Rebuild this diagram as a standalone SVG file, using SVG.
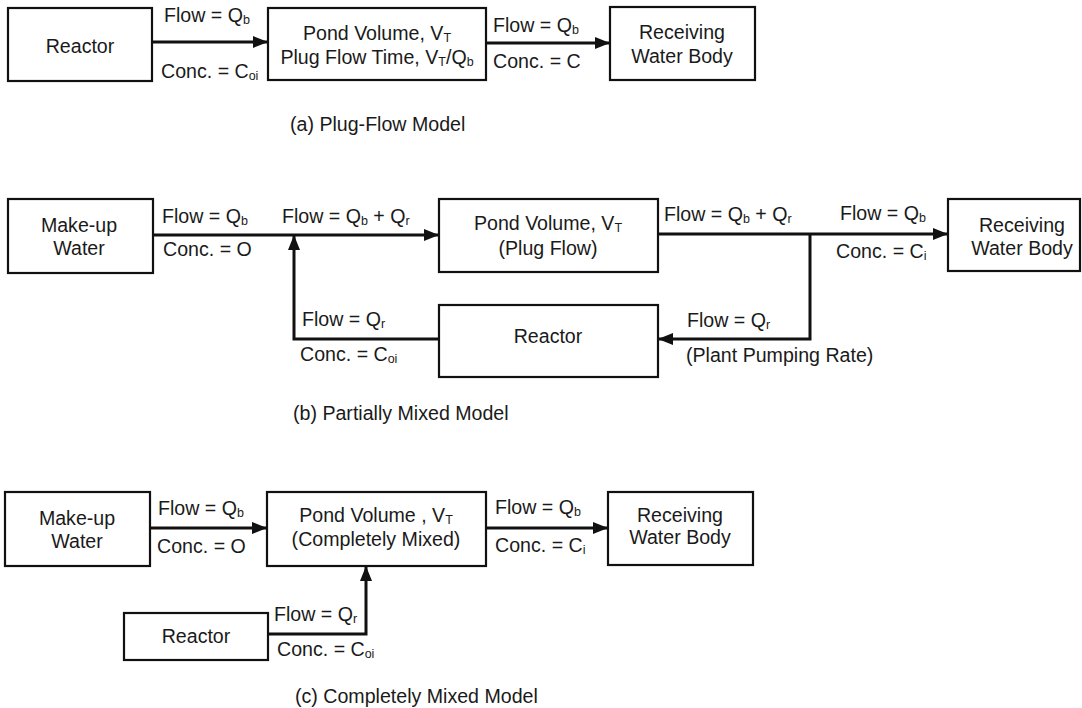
<svg xmlns="http://www.w3.org/2000/svg" width="1082" height="708" viewBox="0 0 1082 708">
<defs>
<marker id="ah" markerUnits="userSpaceOnUse" markerWidth="16" markerHeight="12" refX="15" refY="6" orient="auto">
<path d="M0,0 L15,6 L0,12 Z" fill="#111"/>
</marker>
<style>
text{font-family:"Liberation Sans",Arial,Helvetica,sans-serif;font-size:19.6px;fill:#1a1a1a}
.c{text-anchor:middle}
.sub{font-size:12.5px}
rect{fill:#fff;stroke:#111;stroke-width:2.2}
.ln{fill:none;stroke:#111;stroke-width:3}
.ar{marker-end:url(#ah)}
</style>
</defs>
<rect x="0" y="0" width="1082" height="708" style="stroke:none;fill:#fff"/>

<g id="connectors">
<path class="ln ar" d="M152,42 H268"/>
<path class="ln ar" d="M486,43 H610"/>
<path class="ln ar" d="M153,235 H439"/>
<path class="ln ar" d="M439,339 H294 V235"/>
<path class="ln ar" d="M658,234 H948"/>
<path class="ln ar" d="M810,234 V339 H658"/>
<path class="ln ar" d="M150,528 H267"/>
<path class="ln ar" d="M486,528 H608"/>
<path class="ln ar" d="M268,634 H366 V566"/>
</g>

<g id="labels">
<text x="164" y="22">Flow = Q<tspan class="sub" dy="2">b</tspan></text>
<text x="161" y="78">Conc. = C<tspan class="sub" dy="2">oi</tspan></text>
<text x="493" y="32">Flow = Q<tspan class="sub" dy="2">b</tspan></text>
<text x="493" y="68">Conc. = C</text>
<text x="290" y="131">(a) Plug-Flow Model</text>

<text x="162" y="223">Flow = Q<tspan class="sub" dy="2">b</tspan></text>
<text x="163" y="256">Conc. = O</text>
<text x="282" y="223">Flow = Q<tspan class="sub" dy="2">b</tspan><tspan dy="-2"> + Q</tspan><tspan class="sub" dy="2">r</tspan></text>
<text x="302" y="326">Flow = Q<tspan class="sub" dy="2">r</tspan></text>
<text x="300" y="361">Conc. = C<tspan class="sub" dy="2">oi</tspan></text>
<text x="664" y="221">Flow = Q<tspan class="sub" dy="2">b</tspan><tspan dy="-2"> + Q</tspan><tspan class="sub" dy="2">r</tspan></text>
<text x="840" y="220">Flow = Q<tspan class="sub" dy="2">b</tspan></text>
<text x="836" y="258">Conc. = C<tspan class="sub" dy="2">i</tspan></text>
<text x="687" y="327">Flow = Q<tspan class="sub" dy="2">r</tspan></text>
<text x="686" y="362">(Plant Pumping Rate)</text>
<text x="293" y="420">(b) Partially Mixed Model</text>

<text x="158" y="515">Flow = Q<tspan class="sub" dy="2">b</tspan></text>
<text x="157" y="553">Conc. = O</text>
<text x="495" y="514">Flow = Q<tspan class="sub" dy="2">b</tspan></text>
<text x="495" y="552">Conc. = C<tspan class="sub" dy="2">i</tspan></text>
<text x="274" y="621">Flow = Q<tspan class="sub" dy="2">r</tspan></text>
<text x="277" y="656">Conc. = C<tspan class="sub" dy="2">oi</tspan></text>
<text x="295" y="703">(c) Completely Mixed Model</text>
</g>

<g id="a-reactor">
<rect x="8" y="8" width="144" height="73"/>
<text class="c" x="80" y="53">Reactor</text>
</g>
<g id="a-pond">
<rect x="268" y="8" width="218" height="72"/>
<text class="c" x="377" y="40">Pond Volume, V<tspan class="sub" dy="2">T</tspan></text>
<text class="c" x="377" y="64">Plug Flow Time, V<tspan class="sub" dy="2">T</tspan><tspan dy="-2">/Q</tspan><tspan class="sub" dy="2">b</tspan></text>
</g>
<g id="a-receiving">
<rect x="610" y="7" width="145" height="73"/>
<text class="c" x="682" y="39">Receiving</text>
<text class="c" x="682" y="63">Water Body</text>
</g>

<g id="b-makeup">
<rect x="8" y="199" width="145" height="74"/>
<text class="c" x="79" y="232">Make-up</text>
<text class="c" x="79" y="255">Water</text>
</g>
<g id="b-pond">
<rect x="439" y="199" width="219" height="73"/>
<text class="c" x="548" y="230">Pond Volume, V<tspan class="sub" dy="2">T</tspan></text>
<text class="c" x="548" y="255">(Plug Flow)</text>
</g>
<g id="b-reactor">
<rect x="439" y="305" width="219" height="72"/>
<text class="c" x="548" y="343">Reactor</text>
</g>
<g id="b-receiving">
<rect x="948" y="199" width="132" height="72"/>
<text class="c" x="1022" y="232">Receiving</text>
<text class="c" x="1022" y="255">Water Body</text>
</g>

<g id="c-makeup">
<rect x="5" y="492" width="145" height="74"/>
<text class="c" x="77" y="525">Make-up</text>
<text class="c" x="77" y="548">Water</text>
</g>
<g id="c-pond">
<rect x="267" y="492" width="219" height="74"/>
<text class="c" x="376" y="522">Pond Volume , V<tspan class="sub" dy="2">T</tspan></text>
<text class="c" x="376" y="546">(Completely Mixed)</text>
</g>
<g id="c-receiving">
<rect x="608" y="492" width="145" height="73"/>
<text class="c" x="680" y="522">Receiving</text>
<text class="c" x="680" y="544">Water Body</text>
</g>
<g id="c-reactor">
<rect x="124" y="613" width="144" height="47"/>
<text class="c" x="196" y="643">Reactor</text>
</g>
</svg>
